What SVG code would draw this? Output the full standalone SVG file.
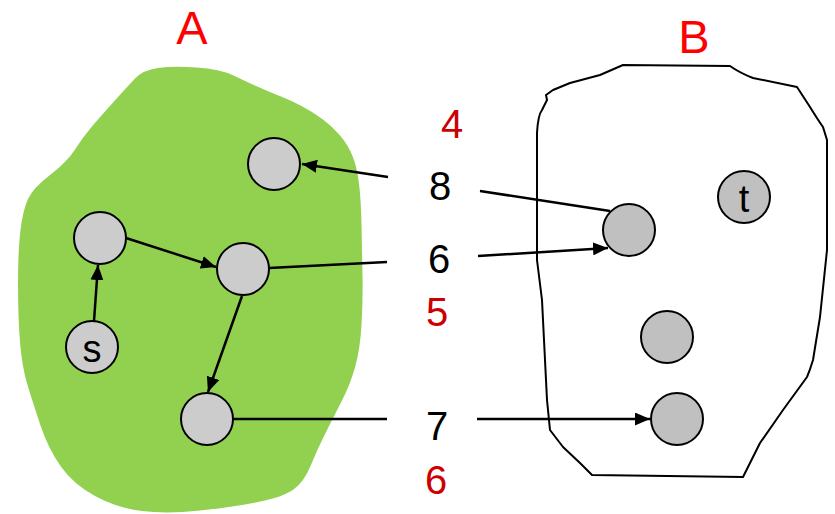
<svg xmlns="http://www.w3.org/2000/svg" width="835" height="514" viewBox="0 0 835 514">
<style>
.lbl{font-family:"Liberation Sans",Arial,sans-serif;text-anchor:middle}
.big{font-size:47px;fill:#ff0000}
.num{font-size:40px}
.red{fill:#cc0000}
.blk{fill:#000}
.nl{fill:#cccccc;stroke:#000;stroke-width:2}
.nr{fill:#c0c0c0;stroke:#000;stroke-width:2}
.edge{stroke:#000;stroke-width:2.5;fill:none}
.nt{font-family:"Liberation Sans",Arial,sans-serif;font-size:38px;text-anchor:middle;fill:#000}
</style>
<defs>
<marker id="ah" markerUnits="userSpaceOnUse" markerWidth="16" markerHeight="13" refX="15" refY="6.5" orient="auto">
<path d="M0,0 L15,6.5 L0,13 Z" fill="#000"/>
</marker>
</defs>
<rect width="835" height="514" fill="#fff"/>
<g id="regionA">
<path fill="#92d050" d="M135,78.5 Q143,70 158,68 Q173,66 196.5,67.5 Q220,69 233.5,75.5 Q247,82 259.5,87.5 Q272,93 281,96.5 Q290,100 301.5,106 Q313,112 323,119.5 Q333,127 340.5,136 Q348,145 352.5,156 Q357,167 359,183.5 Q361,200 361.5,225 Q362,250 362.5,275 Q363,300 361.5,325 Q360,350 355,367.5 Q350,385 341.5,401.5 Q333,418 325,434 Q317,450 310.5,466 Q304,482 293.5,489.5 Q283,497 258,502 Q233,507 200,510.5 Q167,514 142,511 Q117,508 95,496 Q73,484 60.5,466 Q48,448 40.5,425.5 Q33,403 27.5,385 Q22,367 20,342 Q18,317 18,283.5 Q18,250 20.5,230 Q23,210 28,199 Q33,188 50,175 Q67,162 75,149.5 Q83,137 91.5,127 Q100,117 113.5,102 Q127,87 135,78.5 Z"/>
<text class="lbl big" x="192" y="44">A</text>
</g>
<g id="regionB">
<path fill="#fff" stroke="#000" stroke-width="2" stroke-linejoin="round" d="M623,65 L730,66 Q740,73 753,78 L797,87 L810,107 Q818,120 823,127 L827,140 L827,250 L820,317 L813,360 Q810,370 807,377 L783,410 L760,443 L743,477 L592,475 L580,463 L563,447 L550,430 L547,400 L542,300 L537,260 L537,133 Q538,115 542,110 L547,100 L546,95 L553,90 L570,83 L600,75 Z"/>
<text class="lbl big" x="694" y="53">B</text>
</g>
<g id="connectors">
<line class="edge" x1="94" y1="321" x2="98" y2="265" marker-end="url(#ah)"/>
<line class="edge" x1="126" y1="238" x2="216" y2="267" marker-end="url(#ah)"/>
<line class="edge" x1="242" y1="296" x2="208" y2="392" marker-end="url(#ah)"/>
<line class="edge" x1="388" y1="177" x2="302" y2="164" marker-end="url(#ah)"/>
<line class="edge" x1="480" y1="191" x2="610" y2="211"/>
<line class="edge" x1="269" y1="268" x2="387" y2="262"/>
<line class="edge" x1="478" y1="256" x2="608" y2="248" marker-end="url(#ah)"/>
<line class="edge" x1="233" y1="419" x2="387" y2="419"/>
<line class="edge" x1="477" y1="419" x2="650" y2="419" marker-end="url(#ah)"/>
</g>
<g id="labels">
<text class="lbl num red" x="452" y="138">4</text>
<text class="lbl num blk" x="440" y="200">8</text>
<text class="lbl num blk" x="439" y="273">6</text>
<text class="lbl num red" x="437" y="326">5</text>
<text class="lbl num blk" x="437" y="440">7</text>
<text class="lbl num red" x="436" y="494">6</text>
</g>
<g id="node-a1"><circle class="nl" cx="274" cy="164" r="26"/></g>
<g id="node-a2"><circle class="nl" cx="100" cy="238" r="26"/></g>
<g id="node-a3"><circle class="nl" cx="243" cy="269" r="26"/></g>
<g id="node-s"><circle class="nl" cx="92" cy="347" r="26"/><text class="nt" x="92" y="362">s</text></g>
<g id="node-a4"><circle class="nl" cx="207" cy="419" r="26"/></g>
<g id="node-b1"><circle class="nr" cx="629" cy="230" r="26"/></g>
<g id="node-t"><circle class="nr" cx="744" cy="197" r="26"/><text class="nt" x="744" y="212">t</text></g>
<g id="node-b2"><circle class="nr" cx="667" cy="337" r="26"/></g>
<g id="node-b3"><circle class="nr" cx="677" cy="419" r="26"/></g>
</svg>
